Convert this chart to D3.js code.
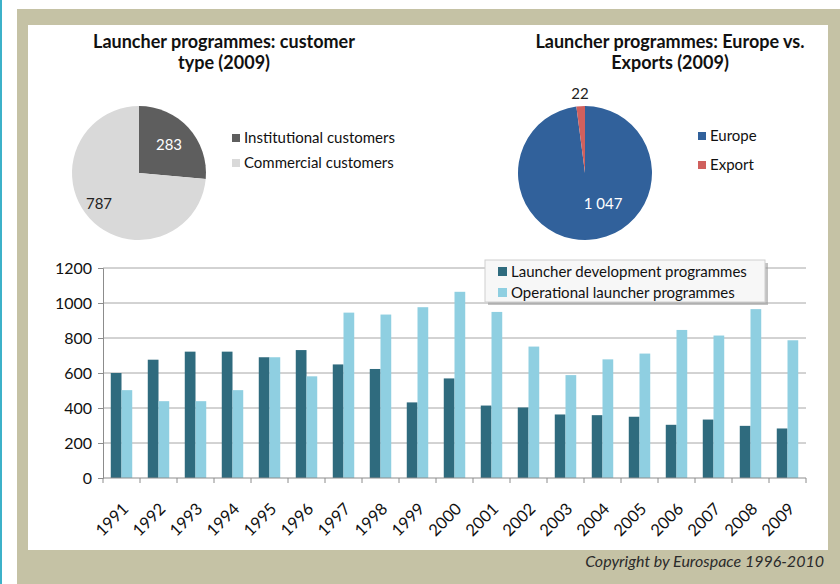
<!DOCTYPE html>
<html>
<head>
<meta charset="utf-8">
<script src="https://cdn.jsdelivr.net/npm/d3@7"></script>
<style>
  body { margin: 0; background: #fff; }
  svg { display: block; font-family: Lato, "Open Sans", sans-serif; }
</style>
</head>
<body>
<svg id="chart" width="840" height="584"></svg>
<script>
// bar chart data
const years = ["1991","1992","1993","1994","1995","1996","1997","1998","1999","2000",
               "2001","2002","2003","2004","2005","2006","2007","2008","2009"];
const devProgrammes = [600, 676, 722, 722, 690, 731, 649, 623, 432, 569,
                       414, 403, 363, 359, 350, 304, 334, 298, 283];
const opProgrammes = [502, 439, 439, 502, 690, 581, 945, 934, 976, 1064,
                      949, 751, 588, 678, 711, 846, 814, 965, 787];
const barSeries = ["Launcher development programmes", "Operational launcher programmes"];
const yTicks = [0, 200, 400, 600, 800, 1000, 1200];

// pie data
const customerLabels = ["Institutional customers", "Commercial customers"];
const customerValues = [283, 787];
const marketLabels = ["Europe", "Export"];
const marketValues = [1047, 22];

const svg = d3.select("#chart");

// background frame
svg.append("rect").attr("x", 0).attr("y", 0).attr("width", 2).attr("height", 584).attr("fill", "#3cb1c9");
svg.append("rect").attr("x", 17).attr("y", 9).attr("width", 823).attr("height", 575).attr("fill", "#c5c2a5");
svg.append("rect").attr("x", 28).attr("y", 25).attr("width", 800).attr("height", 525).attr("fill", "#fff");

svg.append("text")
    .attr("x", 824).attr("y", 567)
    .attr("text-anchor", "end")
    .attr("font-style", "italic")
    .attr("font-size", 16)
    .attr("fill", "#2b2b2b")
    .text("Copyright by Eurospace 1996-2010");

// ---------- pies ----------
let drawPie = function (cfg) {
    let g = svg.append("g").attr("transform", "translate(" + cfg.cx + "," + cfg.cy + ")");
    let pie = d3.pie().sort(null).value((d) => d)(cfg.values);
    let arc = d3.arc().innerRadius(0).outerRadius(cfg.r);

    g.selectAll("path")
        .data(pie)
        .enter()
        .append("path")
        .attr("d", arc)
        .attr("fill", (d, i) => cfg.colors[i]);

    g.selectAll("text.lbl")
        .data(pie)
        .enter()
        .append("text")
        .attr("class", "lbl")
        .attr("x", (d, i) => cfg.labelPos[i][0])
        .attr("y", (d, i) => cfg.labelPos[i][1])
        .attr("text-anchor", "middle")
        .attr("dy", "0.35em")
        .attr("font-size", 15)
        .attr("fill", (d, i) => cfg.labelColors[i])
        .text((d, i) => cfg.valueText[i]);

    let title = svg.append("text")
        .attr("text-anchor", "middle")
        .attr("font-weight", "bold")
        .attr("font-size", 18)
        .attr("fill", "#111");
    cfg.title.forEach((t, i) => {
        title.append("tspan").attr("x", cfg.titleX).attr("y", 48 + i * 21).text(t);
    });

    let lg = svg.append("g").attr("transform", "translate(" + cfg.legendX + "," + cfg.legendY + ")");
    cfg.labels.forEach((t, i) => {
        lg.append("rect")
            .attr("x", 0).attr("y", i * cfg.legendStep - 4)
            .attr("width", 8).attr("height", 8)
            .attr("fill", cfg.colors[i]);
        lg.append("text")
            .attr("x", 12).attr("y", i * cfg.legendStep)
            .attr("dy", "0.35em")
            .attr("font-size", 15)
            .attr("fill", "#111")
            .text(t);
    });
};

drawPie({
    cx: 139, cy: 173, r: 67,
    values: customerValues,
    colors: ["#5e5e5e", "#d9d9d9"],
    labelColors: ["#fff", "#222"],
    valueText: customerValues.map(String),
    labelPos: [[30, -28], [-40, 31]],
    title: ["Launcher programmes: customer", "type (2009)"],
    titleX: 224,
    labels: customerLabels,
    legendX: 232, legendY: 138, legendStep: 25
});

drawPie({
    cx: 585, cy: 173, r: 67,
    values: marketValues,
    colors: ["#31619b", "#d0605d"],
    labelColors: ["#fff", "#222"],
    valueText: ["1 047", "22"],
    labelPos: [[18, 31], [-5, -79]],
    title: ["Launcher programmes: Europe vs.", "Exports (2009)"],
    titleX: 670,
    labels: marketLabels,
    legendX: 698, legendY: 136, legendStep: 29
});

// ---------- bars ----------
let pLeft = 103, pRight = 806, pTop = 268, pBottom = 478;

let scX = d3.scaleBand().domain(years).range([pLeft, pRight]);
let scY = d3.scaleLinear().domain([0, 1200]).range([pBottom, pTop]);
let barW = scX.bandwidth() * 0.29;

let g = svg.append("g");

g.selectAll("line.grid")
    .data(yTicks.slice(1))
    .enter()
    .append("line")
    .attr("class", "grid")
    .attr("x1", pLeft).attr("x2", pRight)
    .attr("y1", (d) => scY(d)).attr("y2", (d) => scY(d))
    .attr("stroke", "#a6a6a6");

let yAxis = svg.append("g")
    .attr("transform", "translate(" + pLeft + ",0)")
    .call(d3.axisLeft(scY).tickValues(yTicks).tickFormat(d3.format("d")).tickSize(5).tickPadding(6));
yAxis.selectAll("text").attr("font-size", 16).attr("fill", "#111").attr("font-family", "Lato, sans-serif");
yAxis.selectAll("line, path").attr("stroke", "#8c8c8c");

let series = [devProgrammes, opProgrammes];
let barColors = ["#2f6b7e", "#8fcfe1"];

series.forEach((vals, s) => {
    g.selectAll("rect.s" + s)
        .data(vals)
        .enter()
        .append("rect")
        .attr("class", "s" + s)
        .attr("x", (d, i) => scX(years[i]) + scX.bandwidth() / 2 - barW + s * barW)
        .attr("y", (d) => scY(d))
        .attr("width", barW)
        .attr("height", (d) => scY(0) - scY(d))
        .attr("fill", barColors[s]);
});

let xAxis = svg.append("g").attr("transform", "translate(0," + pBottom + ")");
xAxis.append("line")
    .attr("x1", pLeft).attr("x2", pRight)
    .attr("stroke", "#8c8c8c");
xAxis.selectAll("line.tk")
    .data(years.concat(["end"]))
    .enter()
    .append("line")
    .attr("class", "tk")
    .attr("x1", (d, i) => pLeft + i * scX.step())
    .attr("x2", (d, i) => pLeft + i * scX.step())
    .attr("y1", 0).attr("y2", 5)
    .attr("stroke", "#8c8c8c");
xAxis.selectAll("text")
    .data(years)
    .enter()
    .append("text")
    .attr("transform", (d) => "translate(" + (scX(d) + scX.bandwidth() / 2 + 4) + ",28) rotate(-45)")
    .attr("text-anchor", "end")
    .attr("dy", "0.35em")
    .attr("font-size", 16.5)
    .attr("fill", "#111")
    .text((d) => d);

// legend box
let lg = svg.append("g").attr("transform", "translate(485,260)");
lg.append("rect")
    .attr("x", 3).attr("y", 3).attr("width", 280).attr("height", 42)
    .attr("fill", "#9a9a9a").attr("opacity", 0.6);
lg.append("rect")
    .attr("width", 280).attr("height", 42)
    .attr("fill", "#f7f7f7").attr("stroke", "#cfcfcf");
barSeries.forEach((t, i) => {
    lg.append("rect")
        .attr("x", 13).attr("y", 7 + i * 21)
        .attr("width", 9).attr("height", 9)
        .attr("fill", barColors[i]);
    lg.append("text")
        .attr("x", 26).attr("y", 12 + i * 21)
        .attr("dy", "0.35em")
        .attr("font-size", 15)
        .attr("fill", "#111")
        .text(t);
});
</script>
</body>
</html>
